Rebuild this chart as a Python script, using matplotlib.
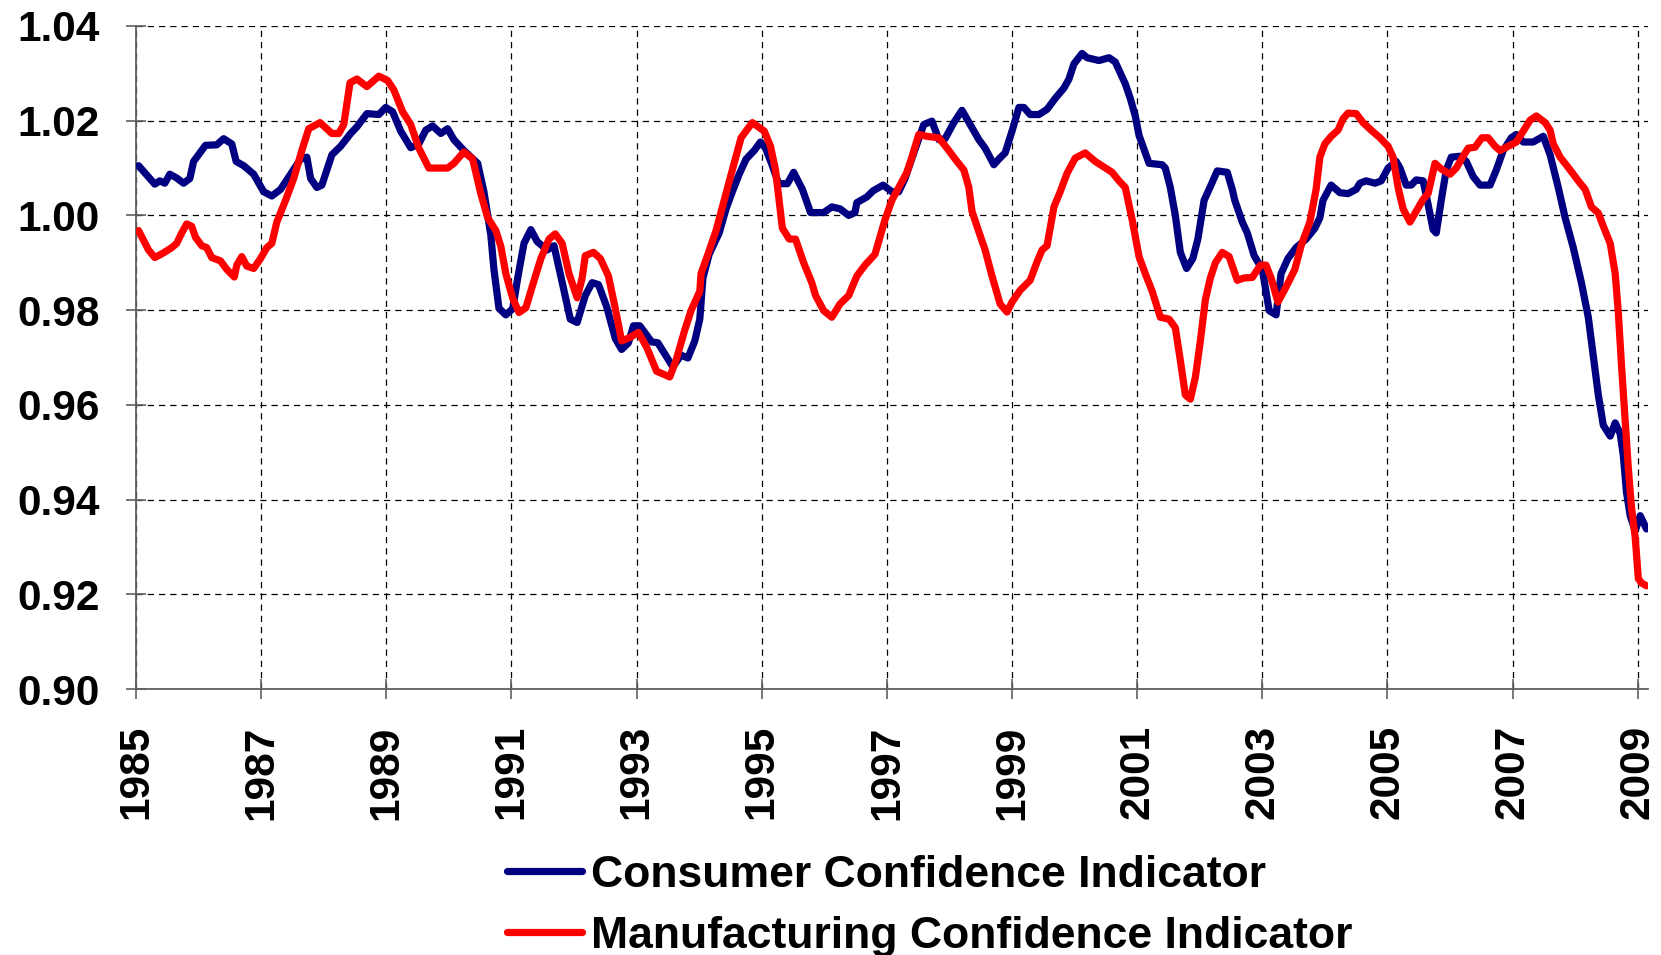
import matplotlib
matplotlib.use("Agg")
import matplotlib.pyplot as plt

# values (fractional year, index value)
cons_year = [1985.04, 1985.30, 1985.38, 1985.46, 1985.54, 1985.65, 1985.76, 1985.86, 1985.92,
             1986.11, 1986.29, 1986.40, 1986.53, 1986.60, 1986.72, 1986.88, 1987.04, 1987.17,
             1987.31, 1987.47, 1987.63, 1987.73, 1987.79, 1987.89, 1987.97, 1988.13, 1988.27,
             1988.43, 1988.53, 1988.69, 1988.88, 1988.99, 1989.10, 1989.23, 1989.39, 1989.52,
             1989.63, 1989.74, 1989.87, 1989.98, 1990.08, 1990.24, 1990.46, 1990.56, 1990.67,
             1990.72, 1990.80, 1990.91,
             1991.02, 1991.10, 1991.20, 1991.31, 1991.41, 1991.57, 1991.68, 1991.78, 1991.94,
             1992.05, 1992.18, 1992.29, 1992.39, 1992.52, 1992.66, 1992.76, 1992.87, 1992.95,
             1993.05, 1993.24, 1993.34, 1993.48, 1993.58, 1993.71, 1993.82, 1993.93, 1994.01,
             1994.06, 1994.16, 1994.32, 1994.43, 1994.53, 1994.64, 1994.75, 1994.88, 1994.98,
             1995.06, 1995.17, 1995.27, 1995.41, 1995.51, 1995.65, 1995.78, 1995.99, 1996.12,
             1996.25, 1996.39, 1996.49, 1996.52, 1996.68, 1996.78, 1996.94,
             1997.08, 1997.19, 1997.29, 1997.43, 1997.59, 1997.72, 1997.83, 1997.93, 1998.07,
             1998.20, 1998.33, 1998.47, 1998.57, 1998.71, 1998.79, 1998.89, 1999.00, 1999.11,
             1999.19, 1999.29, 1999.43, 1999.56, 1999.69, 1999.83, 1999.91, 1999.99, 2000.12,
             2000.20, 2000.39, 2000.55, 2000.65, 2000.81, 2000.89, 2000.97, 2001.03, 2001.19,
             2001.40, 2001.45, 2001.53, 2001.61, 2001.69, 2001.79, 2001.89, 2001.97, 2002.07,
             2002.15, 2002.28, 2002.44, 2002.52, 2002.56, 2002.68, 2002.76, 2002.87, 2003.00,
             2003.11, 2003.22,
             2003.30, 2003.41, 2003.54, 2003.70, 2003.84, 2003.92, 2003.97, 2004.10, 2004.24,
             2004.37, 2004.50, 2004.56, 2004.66, 2004.80, 2004.90, 2005.01, 2005.14, 2005.20,
             2005.30, 2005.38, 2005.46, 2005.57, 2005.65, 2005.73, 2005.78, 2005.86, 2005.94,
             2006.02, 2006.16, 2006.26, 2006.37, 2006.48, 2006.64, 2006.74, 2006.85, 2006.98,
             2007.06, 2007.17, 2007.33, 2007.49, 2007.60, 2007.73, 2007.84, 2007.97, 2008.10,
             2008.21, 2008.29, 2008.37, 2008.45, 2008.56, 2008.64, 2008.72, 2008.77, 2008.82,
             2008.88, 2008.96, 2009.04, 2009.14]
cons_val = [1.0105, 1.0066, 1.0073, 1.0068, 1.0087, 1.0079, 1.0068, 1.0078, 1.0114,
            1.0148, 1.0149, 1.0162, 1.0151, 1.0114, 1.0105, 1.0087, 1.0050, 1.0041,
            1.0055, 1.0087, 1.0119, 1.0123, 1.0078, 1.0059, 1.0064, 1.0128, 1.0146,
            1.0173, 1.0187, 1.0215, 1.0213, 1.0228, 1.0219, 1.0178, 1.0143, 1.0151,
            1.0180, 1.0189, 1.0173, 1.0183, 1.0160, 1.0137, 1.0110, 1.0050, 0.9959,
            0.9886, 0.9804, 0.9790,
            0.9803, 0.9868, 0.9941, 0.9970, 0.9945, 0.9927, 0.9936, 0.9877, 0.9781,
            0.9774, 0.9831, 0.9858, 0.9854, 0.9808, 0.9740, 0.9717, 0.9731, 0.9767,
            0.9767, 0.9733, 0.9731, 0.9701, 0.9680, 0.9705, 0.9699, 0.9735, 0.9781,
            0.9868, 0.9918, 0.9963, 1.0014, 1.0050, 1.0087, 1.0119, 1.0137, 1.0155,
            1.0142, 1.0105, 1.0067, 1.0067, 1.0091, 1.0055, 1.0006, 1.0006, 1.0018,
            1.0014, 1.0000, 1.0006, 1.0027, 1.0039, 1.0052, 1.0064,
            1.0050, 1.0050, 1.0078, 1.0132, 1.0192, 1.0199, 1.0160, 1.0162, 1.0196,
            1.0222, 1.0192, 1.0160, 1.0142, 1.0107, 1.0119, 1.0132, 1.0178, 1.0228,
            1.0228, 1.0213, 1.0213, 1.0224, 1.0247, 1.0269, 1.0288, 1.0320, 1.0342,
            1.0333, 1.0327, 1.0333, 1.0324, 1.0278, 1.0247, 1.0210, 1.0169, 1.0110,
            1.0107, 1.0100, 1.0059, 1.0000, 0.9922, 0.9888, 0.9909, 0.9950, 1.0032,
            1.0055, 1.0094, 1.0091, 1.0055, 1.0032, 0.9986, 0.9963, 0.9915, 0.9886,
            0.9799, 0.9790,
            0.9877, 0.9909, 0.9932, 0.9950, 0.9973, 0.9995, 1.0032, 1.0064, 1.0048,
            1.0046, 1.0055, 1.0068, 1.0073, 1.0068, 1.0073, 1.0100, 1.0114, 1.0100,
            1.0064, 1.0064, 1.0075, 1.0073, 1.0023, 0.9970, 0.9963, 1.0032, 1.0096,
            1.0123, 1.0125, 1.0114, 1.0082, 1.0064, 1.0064, 1.0096, 1.0137, 1.0164,
            1.0171, 1.0155, 1.0155, 1.0167, 1.0128, 1.0059, 0.9995, 0.9932, 0.9858,
            0.9785, 0.9703, 0.9621, 0.9557, 0.9534, 0.9562, 0.9539, 0.9493, 0.9416,
            0.9366, 0.9334, 0.9366, 0.9338]

manu_year = [1985.04, 1985.20, 1985.30, 1985.44, 1985.57, 1985.65, 1985.73, 1985.81, 1985.89,
             1985.95, 1986.05, 1986.13, 1986.21, 1986.35, 1986.45, 1986.57, 1986.61, 1986.69,
             1986.77, 1986.88, 1986.99, 1987.09, 1987.17, 1987.25, 1987.39, 1987.52, 1987.65,
             1987.76, 1987.94, 1988.13, 1988.24, 1988.32, 1988.42, 1988.53, 1988.69, 1988.88,
             1989.02, 1989.12, 1989.26, 1989.39, 1989.52, 1989.68, 1989.98, 1990.08, 1990.24,
             1990.38, 1990.51, 1990.62, 1990.75,
             1990.83, 1990.91, 1991.02, 1991.12, 1991.23, 1991.33, 1991.47, 1991.60, 1991.70,
             1991.81, 1991.92, 1992.05, 1992.13, 1992.18, 1992.31, 1992.42, 1992.55, 1992.66,
             1992.76, 1992.89, 1993.03, 1993.16, 1993.32, 1993.53, 1993.63, 1993.77, 1993.87,
             1994.01, 1994.03, 1994.14, 1994.27, 1994.40, 1994.53, 1994.67, 1994.85, 1995.04,
             1995.14, 1995.22, 1995.33, 1995.44, 1995.54, 1995.67, 1995.80, 1995.86, 1995.99,
             1996.12, 1996.25, 1996.39, 1996.52, 1996.65, 1996.81, 1996.97,
             1997.08, 1997.21, 1997.32, 1997.40, 1997.51, 1997.64, 1997.83, 1997.99, 1998.12,
             1998.23, 1998.31, 1998.36, 1998.44, 1998.57, 1998.68, 1998.81, 1998.92, 1999.00,
             1999.13, 1999.29, 1999.40, 1999.48, 1999.56, 1999.67, 1999.77, 1999.88, 2000.01,
             2000.17, 2000.33, 2000.47, 2000.60, 2000.71, 2000.81, 2000.92, 2001.03, 2001.13,
             2001.24, 2001.37, 2001.51, 2001.61, 2001.69, 2001.77, 2001.85, 2001.93, 2002.01,
             2002.09, 2002.17, 2002.25, 2002.36, 2002.47, 2002.60, 2002.71, 2002.84, 2002.97,
             2003.06, 2003.14, 2003.25,
             2003.38, 2003.52, 2003.62, 2003.76, 2003.86, 2003.92, 2004.00, 2004.10, 2004.21,
             2004.29, 2004.37, 2004.50, 2004.61, 2004.74, 2004.88, 2005.01, 2005.09, 2005.17,
             2005.25, 2005.36, 2005.46, 2005.57, 2005.65, 2005.76, 2005.86, 2006.00, 2006.10,
             2006.21, 2006.29, 2006.40, 2006.51, 2006.61, 2006.72, 2006.80, 2006.93, 2007.06,
             2007.17, 2007.28, 2007.38, 2007.52, 2007.60, 2007.65, 2007.76, 2007.92, 2008.05,
             2008.16, 2008.26, 2008.37, 2008.45, 2008.56, 2008.64, 2008.69, 2008.74, 2008.80,
             2008.85, 2008.90, 2008.96, 2009.01, 2009.06, 2009.14]
manu_val = [0.9968, 0.9927, 0.9911, 0.9921, 0.9932, 0.9941, 0.9963, 0.9982, 0.9977,
            0.9954, 0.9936, 0.9932, 0.9911, 0.9904, 0.9886, 0.9870, 0.9895, 0.9913,
            0.9893, 0.9888, 0.9909, 0.9932, 0.9941, 0.9986, 1.0032, 1.0078, 1.0137,
            1.0183, 1.0196, 1.0173, 1.0173, 1.0192, 1.0280, 1.0288, 1.0272, 1.0294,
            1.0285, 1.0265, 1.0219, 1.0192, 1.0142, 1.0100, 1.0100, 1.0110, 1.0134,
            1.0119, 1.0046, 0.9995, 0.9968,
            0.9935, 0.9877, 0.9825, 0.9795, 0.9805, 0.9849, 0.9909, 0.9950, 0.9961,
            0.9941, 0.9877, 0.9826, 0.9868, 0.9915, 0.9922, 0.9909, 0.9872, 0.9803,
            0.9735, 0.9742, 0.9753, 0.9722, 0.9671, 0.9659, 0.9694, 0.9758, 0.9799,
            0.9840, 0.9877, 0.9918, 0.9968, 1.0032, 1.0096, 1.0164, 1.0196, 1.0178,
            1.0146, 1.0096, 0.9973, 0.9950, 0.9950, 0.9900, 0.9858, 0.9831, 0.9799,
            0.9785, 0.9813, 0.9831, 0.9872, 0.9895, 0.9918, 0.9991,
            1.0032, 1.0064, 1.0091, 1.0123, 1.0171, 1.0167, 1.0164, 1.0137, 1.0114,
            1.0096, 1.0059, 1.0009, 0.9977, 0.9927, 0.9872, 0.9813, 0.9796, 0.9817,
            0.9842, 0.9863, 0.9902, 0.9927, 0.9936, 1.0018, 1.0050, 1.0089, 1.0121,
            1.0132, 1.0114, 1.0102, 1.0091, 1.0073, 1.0059, 0.9991, 0.9913, 0.9877,
            0.9840, 0.9785, 0.9781, 0.9763, 0.9694, 0.9621, 0.9612, 0.9658, 0.9735,
            0.9822, 0.9868, 0.9900, 0.9922, 0.9913, 0.9863, 0.9868, 0.9869, 0.9895,
            0.9895, 0.9868, 0.9817,
            0.9849, 0.9886, 0.9936, 0.9986, 1.0055, 1.0123, 1.0151, 1.0167, 1.0180,
            1.0204, 1.0216, 1.0215, 1.0196, 1.0180, 1.0164, 1.0146, 1.0123, 1.0059,
            1.0014, 0.9986, 1.0009, 1.0034, 1.0046, 1.0110, 1.0098, 1.0087, 1.0100,
            1.0125, 1.0142, 1.0144, 1.0164, 1.0164, 1.0146, 1.0137, 1.0146, 1.0155,
            1.0178, 1.0201, 1.0210, 1.0196, 1.0180, 1.0151, 1.0123, 1.0096, 1.0073,
            1.0055, 1.0018, 1.0005, 0.9977, 0.9941, 0.9877, 0.9795, 0.9685, 0.9566,
            0.9466, 0.9384, 0.9320, 0.9233, 0.9224, 0.9218]

year_ticks = list(range(1985, 2010, 2))
value_ticks = [0.90, 0.92, 0.94, 0.96, 0.98, 1.00, 1.02, 1.04]

plt.rcParams['font.family'] = ['Liberation Sans', 'DejaVu Sans']

fig = plt.figure(figsize=(16.61, 9.55), dpi=100)
ax = fig.add_axes([0.0819, 0.2785, 0.9103, 0.6943])

ax.plot(cons_year, cons_val, color='#000080', lw=5.2, solid_joinstyle='round',
        solid_capstyle='round', label='Consumer Confidence Indicator', zorder=3)
ax.plot(manu_year, manu_val, color='#ff0000', lw=5.2, solid_joinstyle='round',
        solid_capstyle='round', label='Manufacturing Confidence Indicator', zorder=4)

ax.set_xlim(1985, 2009.165)
ax.set_ylim(0.90, 1.04)
ax.set_xticks(year_ticks)
ax.set_xticklabels([str(y) for y in year_ticks], rotation=90, fontsize=30.5, fontweight='bold')
ax.set_yticks(value_ticks)
ax.set_yticklabels(['%.2f' % v for v in value_ticks], fontsize=30.5, fontweight='bold')

ax.grid(True, color='black', linestyle=(0, (5, 4)), linewidth=0.9)
ax.set_axisbelow(True)
for s in ['top', 'right']:
    ax.spines[s].set_visible(False)
for s in ['left', 'bottom']:
    ax.spines[s].set_color('#606060')
    ax.spines[s].set_linewidth(1.3)
ax.tick_params(axis='both', direction='inout', length=14, width=1.2, color='#606060', pad=19)

fig.legend(loc='center left', bbox_to_anchor=(0.305, 0.0515), frameon=False,
           prop={'family': ['Liberation Sans'], 'weight': 'bold', 'size': 32},
           handlelength=1.7, handletextpad=0.2, labelspacing=0.44, borderpad=0,
           borderaxespad=0)

fig.savefig('out.png', dpi=100)
